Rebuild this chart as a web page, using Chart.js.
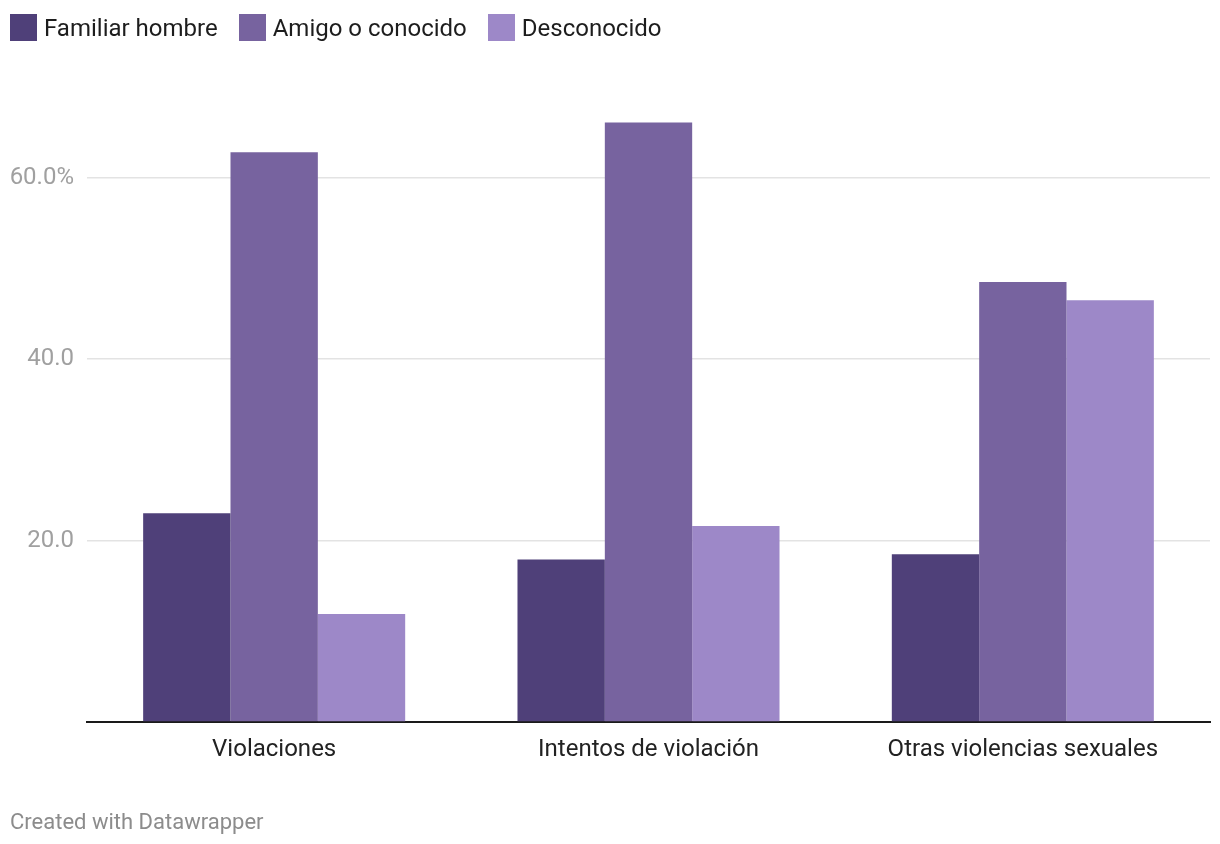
<!DOCTYPE html>
<html>
<head>
<meta charset="utf-8">
<script src="https://cdn.jsdelivr.net/npm/chart.js@4"></script>
<style>
  body { margin: 0; background: #fff; font-family: Roboto, sans-serif; }
  #wrap { position: relative; width: 1220px; height: 844px; }
  #chart { position: absolute; left: 0; top: 0; }
  #legend { position: absolute; left: 10px; top: 14px; display: flex; font-size: 24px; color: #1d1d1d; }
  .item { display: flex; align-items: center; margin-right: 21px; height: 27px; }
  .box { width: 27px; height: 27px; margin-right: 7px; }
  #footer { position: absolute; left: 10px; top: 809px; font-size: 22px; color: #8c8c8c; }
</style>
</head>
<body>
<div id="wrap">
  <canvas id="chart" width="1220" height="844"></canvas>
  <div id="legend"></div>
  <div id="footer">Created with Datawrapper</div>
</div>
<script>
const categories = ['Violaciones', 'Intentos de violación', 'Otras violencias sexuales'];
const seriesNames = ['Familiar hombre', 'Amigo o conocido', 'Desconocido'];
const familiar = [23.0, 17.9, 18.5];
const amigo = [62.8, 66.1, 48.5];
const desconocido = [11.9, 21.6, 46.5];
const yTicks = [0, 20, 40, 60];
const colors = ['#4f4079', '#77639f', '#9d88c8'];

const seriesValues = [familiar, amigo, desconocido];

const legend = document.getElementById('legend');
seriesNames.forEach((name, i) => {
    const item = document.createElement('div');
    item.className = 'item';
    item.innerHTML = '<div class="box" style="background:' + colors[i] + '"></div><span>' + name + '</span>';
    legend.appendChild(item);
});

const ctx = document.getElementById('chart');

new Chart(ctx, {
    type: 'bar',
    data: {
        labels: categories,
        datasets: seriesNames.map((name, i) => ({
            label: name,
            data: seriesValues[i],
            backgroundColor: colors[i],
            borderColor: colors[i],
            borderWidth: 0
        }))
    },
    options: {
        responsive: false,
        animation: false,
        layout: { padding: { top: 87, right: 10, bottom: 72, left: 0 } },
        plugins: {
            legend: { display: false },
            tooltip: { enabled: false }
        },
        datasets: {
            bar: { categoryPercentage: 0.7, barPercentage: 1.0 }
        },
        scales: {
            x: {
                grid: { display: false, drawTicks: false },
                border: { display: true, color: '#1a1a1a', width: 2 },
                ticks: {
                    padding: 14,
                    color: '#222',
                    font: { family: 'Roboto', size: 24 }
                },
                afterFit: (scale) => { scale.height = 50; }
            },
            y: {
                min: 0,
                max: 70,
                afterBuildTicks: (scale) => {
                    scale.ticks = yTicks.map(v => ({ value: v }));
                },
                afterFit: (scale) => { scale.width = 87; },
                border: { display: false },
                grid: {
                    drawTicks: false,
                    color: (c) => c.tick && c.tick.value === 0 ? 'rgba(0,0,0,0)' : '#e3e3e3',
                    lineWidth: 1.5
                },
                ticks: {
                    padding: 13,
                    color: '#a0a0a0',
                    font: { family: 'Roboto', size: 24, lineHeight: 1.0 },
                    callback: (v) => {
                        if (v === 0) return '';
                        if (v === 60) return v.toFixed(1) + '%';
                        return v.toFixed(1);
                    }
                }
            }
        }
    }
});
</script>
</body>
</html>
